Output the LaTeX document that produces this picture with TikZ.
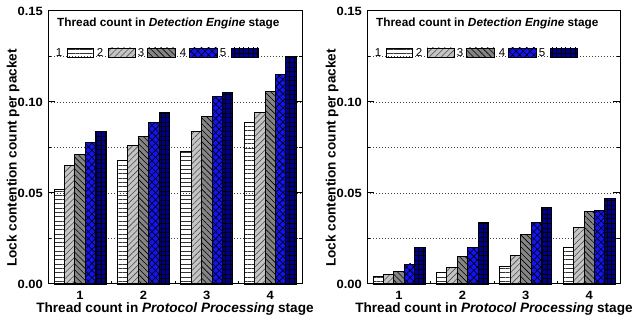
\documentclass[tikz,border=0pt]{standalone}
\usepackage{fontspec}
\setmainfont{Liberation Sans}
\usetikzlibrary{patterns.meta}

\definecolor{lgray}{HTML}{C4C4C4}
\definecolor{mgray}{HTML}{858585}
\definecolor{barblue}{HTML}{1414F0}
\definecolor{barnavy}{HTML}{000090}
\definecolor{dotgray}{HTML}{404040}

\tikzset{
  barbase/.style={draw=black, line width=0.9pt},
  bar0/.style={barbase,
    preaction={pattern={Lines[angle=0,distance=4.3pt,line width=0.8pt]}, pattern color=black!80}},
  bar1/.style={barbase, preaction={fill=lgray},
    preaction={pattern={Lines[angle=45,distance=4.2pt,line width=0.6pt]}, pattern color=black!70}},
  bar2/.style={barbase, preaction={fill=mgray},
    preaction={pattern={Lines[angle=-45,distance=4.2pt,line width=0.6pt]}, pattern color=black}},
  bar3/.style={barbase, preaction={fill=barblue},
    preaction={pattern={Hatch[angle=45,distance=5pt,line width=0.6pt]}, pattern color=black}},
  bar4/.style={barbase, preaction={fill=barnavy},
    preaction={pattern={Hatch[angle=0,distance=4.6pt,line width=0.7pt]}, pattern color=black}},
  frame/.style={draw=black, line width=1pt},
  gridline/.style={draw=dotgray, line width=0.9pt, dash pattern=on 1pt off 2pt},
  ticklab/.style={font=\fontsize{12}{14}\selectfont\bfseries, inner sep=0pt, xscale=1.08},
  axlab/.style={font=\fontsize{13.6}{16}\selectfont\bfseries, inner sep=0pt},
  legtitle/.style={font=\fontsize{11.8}{14}\selectfont\bfseries, inner sep=0pt},
  legnum/.style={font=\fontsize{11.5}{13}\selectfont, inner sep=0pt},
}

% One bar-chart panel: #1 name prefix, #2 horizontal shift, #3 right edge of frame, #4 data
\newcommand\statpanel[4]{%
\begin{scope}[xshift=#2pt]
  % dotted grid
  \foreach \gv in {0.025,0.05,0.075,0.1,0.125}
    \draw[gridline] (48,{284-1820*\gv}) -- (#3,{284-1820*\gv});
  % bars
  \foreach \grp [count=\g from 0] in {#4} {
    \foreach \v [count=\k from 0] in \grp {
      \pgfmathsetmacro\xs{54+63.4*\g+10.4*\k}
      \draw[bar\k] (\xs,284) rectangle ({\xs+10.4},{284-1820*\v});
    }
  }
  % legend
  \node[legtitle, anchor=west] (#1legt) at (57,23) {Thread count in \textit{Detection Engine} stage};
  \foreach \n/\nx/\ba/\bb [count=\k from 0] in {1/59/67/93, 2/100/108/135, 3/141/147/175, 4/183/189/217, 5/223/231/258} {
    \node[legnum] (#1leg\n) at (\nx,52.5) {\n};
    \draw[bar\k] (\ba,48) rectangle (\bb,57);
  }
  % frame and ticks
  \draw[frame] (48,11) rectangle (#3,284);
  \foreach \tv/\tl in {0/7,0.025/3,0.05/7,0.075/3,0.1/7,0.125/3} {
    \draw[frame] (48,{284-1820*\tv}) -- ++(\tl,0);
    \draw[frame] (#3,{284-1820*\tv}) -- ++(-\tl,0);
  }
  \foreach \tx in {111.7,175.1,238.5}
    \draw[frame] (\tx,284) -- ++(0,-3);
  % tick labels
  \foreach \tv/\tt in {0/0.00,0.05/0.05,0.1/0.10,0.15/0.15}
    \node[ticklab, anchor=east] (#1y\tt) at (43,{284-1820*\tv}) {\tt};
  \foreach \i in {1,2,3,4}
    \node[ticklab, anchor=base] (#1x\i) at ({80+63.4*(\i-1)},299.2) {\i};
  % axis labels
  \node[axlab, anchor=base] (#1xlab) at (175,313) {Thread count in \textit{Protocol Processing} stage};
  \node[axlab, rotate=90] (#1ylab) at (13,158) {Lock contention count per packet};
\end{scope}}

\begin{document}
\begin{tikzpicture}[x=1pt, y=-1pt]
  \useasboundingbox (0,0) rectangle (632,320);
  \statpanel{L}{0}{302}{{0.052,0.065,0.071,0.078,0.084},{0.068,0.076,0.081,0.089,0.094},{0.073,0.084,0.092,0.103,0.105},{0.089,0.094,0.106,0.115,0.125}}
  \statpanel{R}{319}{301}{{0.004,0.005,0.007,0.011,0.020},{0.0065,0.009,0.0153,0.020,0.034},{0.0095,0.0157,0.027,0.034,0.042},{0.020,0.031,0.0397,0.0403,0.047}}
\end{tikzpicture}
\end{document}
